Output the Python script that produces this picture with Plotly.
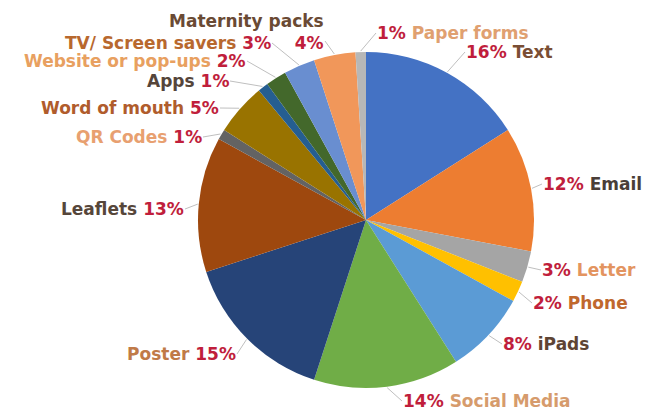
import math
import plotly.graph_objects as go

# ---- data ----
categories = ["Text", "Email", "Letter", "Phone", "iPads", "Social Media", "Poster",
              "Leaflets", "QR Codes", "Word of mouth", "Apps", "Website or pop-ups",
              "TV/ Screen savers", "Maternity packs", "Paper forms"]
values = [16, 12, 3, 2, 8, 14, 15, 13, 1, 5, 1, 2, 3, 4, 1]

# ---- styles ----
slice_colors = ["#4472C4", "#ED7D31", "#A5A5A5", "#FFC000", "#5B9BD5", "#70AD47", "#264478",
                "#9E480E", "#636363", "#997300", "#255E91", "#43682B", "#698ED0", "#F1975A",
                "#B7B7B7"]
name_colors = ["#7A4E34", "#4A3E38", "#E39460", "#C0682E", "#5E4434", "#D69B6C", "#C07A48",
               "#56463A", "#E8A070", "#B05C2C", "#55453A", "#E8A060", "#B8682E", "#6A4A34",
               "#E0A070"]
pct_color = "#C01E3C"

W, H = 660, 414
CX, CY, R = 366, 220, 168

# label anchor (pixel) positions (layout only)
label_x = [465, 542, 541, 532, 502, 402, 237, 185, 203, 220, 230, 247, 272, 325, 376]
label_y = [52, 184, 270, 303, 344, 401, 354, 209, 137, 108, 81, 61, 43, 32, 33]

total = sum(values)
fig = go.Figure(go.Pie(
    labels=categories, values=values, sort=False, direction="clockwise", rotation=0,
    marker=dict(colors=slice_colors, line=dict(width=0)),
    textinfo="none", hoverinfo="label+percent", showlegend=False,
    domain=dict(x=[(CX - R) / W, (CX + R) / W], y=[1 - (CY + R) / H, 1 - (CY - R) / H]),
))

annotations = []
shapes = []
cum = 0
for i, (name, v) in enumerate(zip(categories, values)):
    mid = (cum + v / 2) / total * 2 * math.pi
    cum += v
    ex = CX + (R + 1) * math.sin(mid)
    ey = CY - (R + 1) * math.cos(mid)
    pct = f"{round(v / total * 100)}%"
    right = math.sin(mid) > 0 or name == "Paper forms"
    nm = f"<span style='color:{name_colors[i]}'>{name}</span>"
    pc = f"<span style='color:{pct_color}'>{pct}</span>"
    if name == "Maternity packs":
        txt = f"{nm}<br>{pc}"
        anchor = "right"
        lx, ly = label_x[i], label_y[i] + 9
    elif right:
        txt = f"{pc} {nm}"
        anchor = "left"
        lx, ly = label_x[i], label_y[i]
    else:
        txt = f"{nm} {pc}"
        anchor = "right"
        lx, ly = label_x[i], label_y[i]
    annotations.append(dict(
        x=label_x[i] / W, y=1 - label_y[i] / H, xref="paper", yref="paper",
        text=f"<b>{txt}</b>", showarrow=False, xanchor=anchor, yanchor="middle",
        align=anchor, borderpad=0, font=dict(family="DejaVu Sans", size=17),
    ))
    shapes.append(dict(type="line", xref="paper", yref="paper",
                       x0=ex / W, y0=1 - ey / H, x1=lx / W, y1=1 - ly / H,
                       line=dict(color="#BFBFBF", width=1)))

fig.update_layout(
    width=W, height=H, margin=dict(l=0, r=0, t=0, b=0),
    paper_bgcolor="white", plot_bgcolor="white",
    annotations=annotations, shapes=shapes,
)
fig.write_html("out.html")
